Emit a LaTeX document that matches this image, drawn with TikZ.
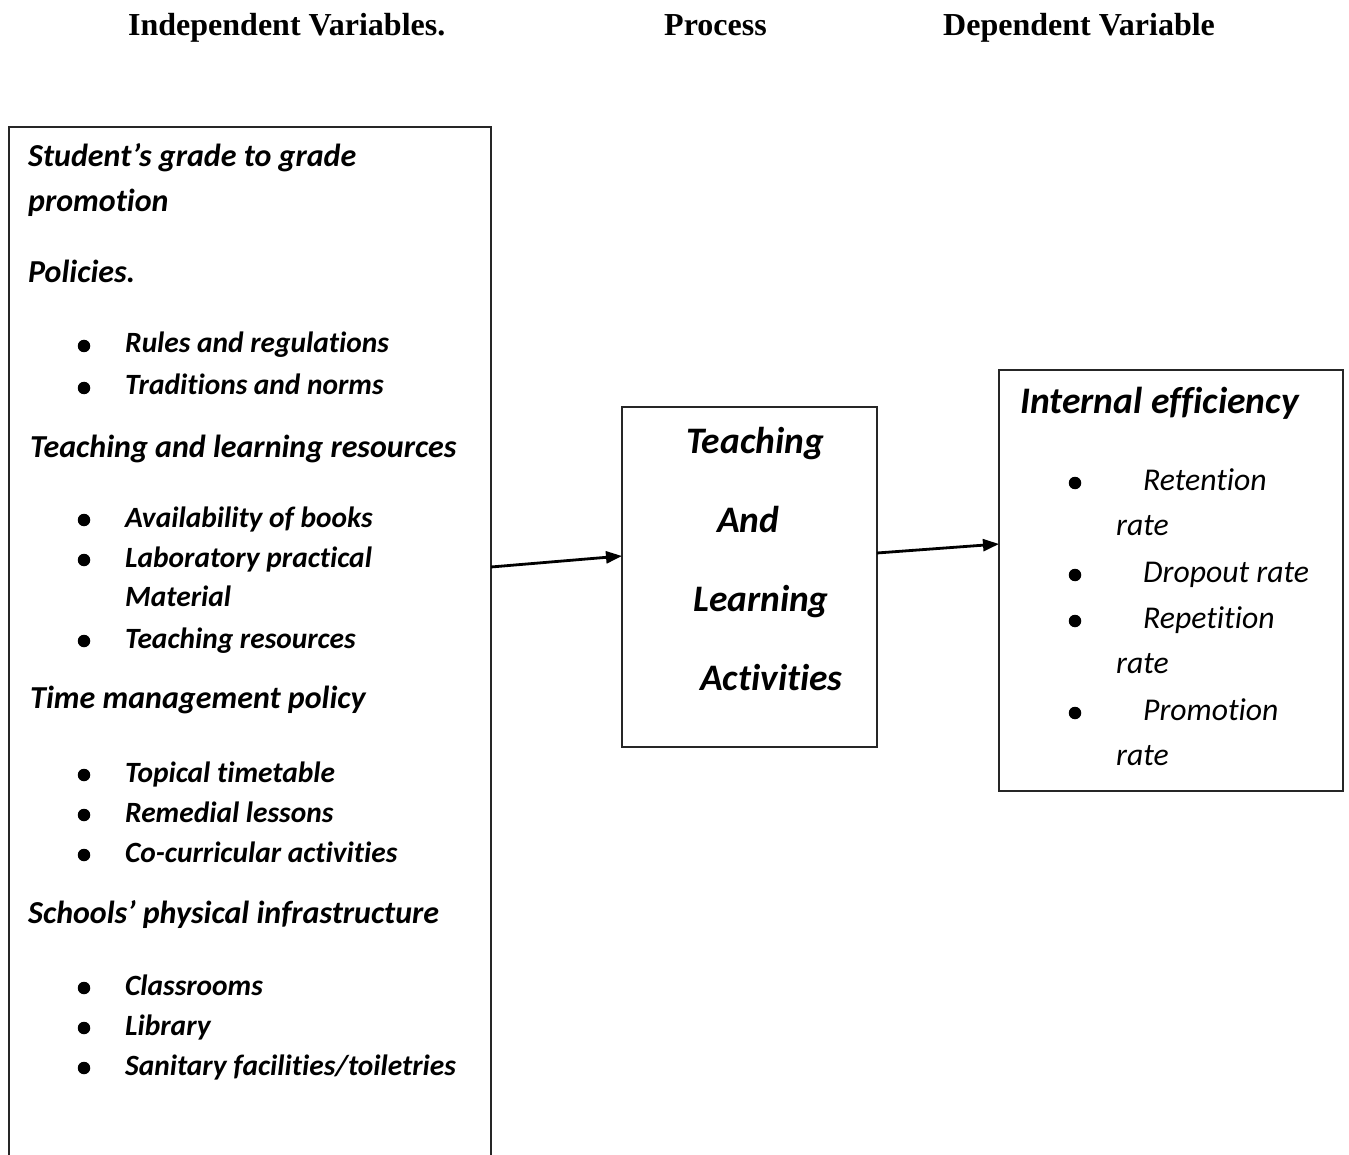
\documentclass[tikz,border=0pt]{standalone}
\usepackage{fontspec}
\setmainfont{Carlito}[Ligatures={NoCommon,NoRequired,NoContextual,NoRare}]
\newfontfamily\hdfont{Liberation Serif}
\usetikzlibrary{arrows.meta}
\tikzset{
  box/.style={draw=black!85, line width=1.3pt, inner sep=0, outer sep=0, anchor=north west},
  hd/.style={anchor=base west, inner sep=0, font=\hdfont\fontsize{32}{38}\selectfont\bfseries},
  lh/.style={anchor=base west, inner sep=0, font=\fontsize{32}{38}\selectfont\bfseries\itshape},
  lt/.style={anchor=base west, inner sep=0, font=\fontsize{29.4}{35}\selectfont\bfseries\itshape},
  dot/.style={circle, fill=black, draw=none, minimum size=12.5pt, inner sep=0},
  mt/.style={anchor=base west, inner sep=0, font=\fontsize{37.4}{44}\selectfont\bfseries\itshape},
  rh/.style={anchor=base west, inner sep=0, font=\fontsize{37.5}{44}\selectfont\bfseries\itshape},
  rt/.style={anchor=base west, inner sep=0, font=\fontsize{31.7}{38}\selectfont\itshape},
  conn/.style={line width=2.8pt, -{Triangle[length=16pt,width=12pt]}}
}
\begin{document}
\begin{tikzpicture}[x=1pt,y=-1pt]
\useasboundingbox (0,0) rectangle (1349,1155);
\clip (0,0) rectangle (1349,1155);
\fill[white] (0,0) rectangle (1349,1155);
% headers
\node[hd] (h1) at (128,36) {Independent Variables.};
\node[hd] (h2) at (664,36) {Process};
\node[hd] (h3) at (943,36) {Dependent Variable};
% boxes
\node[box, minimum width=482pt, minimum height=1060pt] (indep) at (9,127) {};
\node[box, minimum width=255pt, minimum height=340pt] (proc) at (622,407) {};
\node[box, minimum width=344pt, minimum height=421pt] (dep) at (999,370) {};
% left box text
\node[lh] (l1) at (28,167) {Student’s grade to grade};
\node[lh] (l2) at (28,212) {promotion};
\node[lh] (l3) at (28,283) {Policies.};
\node[dot] (b1) at (84,346) {};
\node[lt] (l4) at (125,353) {Rules and regulations};
\node[dot] (b2) at (84,388) {};
\node[lt] (l5) at (125,395) {Traditions and norms};
\node[lh] (l6) at (30,457) {Teaching and learning resources};
\node[dot] (b3) at (84,520) {};
\node[lt] (l7) at (125,527) {Availability of books};
\node[dot] (b4) at (84,560) {};
\node[lt] (l8) at (125,567) {Laboratory practical};
\node[lt] (l9) at (125,606) {Material};
\node[dot] (b5) at (84,641) {};
\node[lt] (l10) at (125,648) {Teaching resources};
\node[lh] (l11) at (30,708) {Time management policy};
\node[dot] (b6) at (84,775) {};
\node[lt] (l12) at (125,782) {Topical timetable};
\node[dot] (b7) at (84,815) {};
\node[lt] (l13) at (125,822) {Remedial lessons};
\node[dot] (b8) at (84,855) {};
\node[lt] (l14) at (125,862) {Co-curricular activities};
\node[lh] (l15) at (28,923) {Schools’ physical infrastructure};
\node[dot] (b9) at (84,988) {};
\node[lt] (l16) at (125,995) {Classrooms};
\node[dot] (b10) at (84,1028) {};
\node[lt] (l17) at (125,1035) {Library};
\node[dot] (b11) at (84,1068) {};
\node[lt] (l18) at (125,1075) {Sanitary facilities/toiletries};
% middle text
\node[mt] (m1) at (686,453) {Teaching};
\node[mt] (m2) at (717,532) {And};
\node[mt] (m3) at (693,611) {Learning};
\node[mt] (m4) at (700,690) {Activities};
% right text
\node[rh] (r0) at (1020,413) {Internal efficiency};
\node[dot] (rb1) at (1075,483) {};
\node[rt] (r1) at (1143,490) {Retention};
\node[rt] (r1b) at (1116,535) {rate};
\node[dot] (rb2) at (1075,575) {};
\node[rt] (r2) at (1143,582) {Dropout rate};
\node[dot] (rb3) at (1075,621) {};
\node[rt] (r3) at (1143,628) {Repetition};
\node[rt] (r3b) at (1116,673) {rate};
\node[dot] (rb4) at (1075,713) {};
\node[rt] (r4) at (1143,720) {Promotion};
\node[rt] (r4b) at (1116,765) {rate};
% connectors
\coordinate (a1s) at (indep.north east |- 0,567);
\coordinate (a1e) at (proc.north west |- 0,556);
\coordinate (a2s) at (proc.north east |- 0,553);
\coordinate (a2e) at (dep.north west |- 0,544);
\draw[conn] (a1s) -- (a1e);
\draw[conn] (a2s) -- (a2e);
\end{tikzpicture}
\end{document}
